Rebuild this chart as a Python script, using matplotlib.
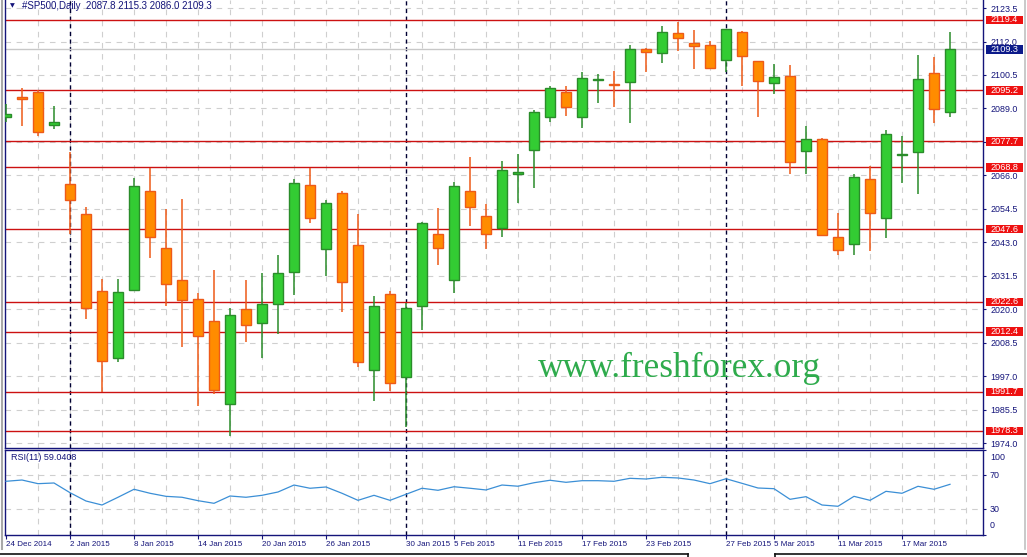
import numpy as np
import matplotlib
matplotlib.use('Agg')
import matplotlib.pyplot as plt
import matplotlib.transforms as mtransforms
from matplotlib.patches import Rectangle
from matplotlib.lines import Line2D
from matplotlib import font_manager

plt.rcParams['lines.scale_dashes'] = False

# ---------------- data ----------------
symbol = '#SP500,Daily'
opens = [2086.1, 2093.0, 2094.7, 2083.3, 2063.1, 2052.7, 2026.3, 2003.5, 2026.8, 2060.7,
         2041.1, 2030.0, 2023.5, 2016.0, 1987.5, 2020.1, 2015.3, 2021.8, 2032.8, 2062.6,
         2040.7, 2059.9, 2042.0, 1999.1, 2025.2, 1996.7, 2021.1, 2045.8, 2030.2, 2060.7,
         2052.0, 2048.1, 2066.5, 2074.7, 2086.0, 2094.7, 2086.0, 2098.8, 2097.4, 2098.0,
         2109.3, 2108.0, 2114.8, 2111.5, 2110.7, 2105.6, 2115.2, 2105.2, 2097.7, 2100.1,
         2074.3, 2078.4, 2044.8, 2042.4, 2064.7, 2051.3, 2073.1, 2074.0, 2101.1, 2087.8]
highs = [2090.5, 2096.0, 2095.4, 2089.9, 2074.1, 2055.1, 2030.4, 2030.4, 2065.1, 2068.5,
         2054.5, 2057.9, 2025.7, 2033.6, 2020.4, 2030.1, 2032.5, 2038.7, 2064.8, 2068.5,
         2057.6, 2060.7, 2052.8, 2024.6, 2026.3, 2022.1, 2050.1, 2054.8, 2063.8, 2072.4,
         2056.2, 2071.0, 2073.4, 2088.5, 2096.7, 2096.7, 2101.5, 2100.9, 2102.0, 2110.8,
         2109.7, 2117.3, 2118.8, 2116.0, 2112.1, 2116.2, 2115.5, 2105.2, 2104.3, 2103.8,
         2082.9, 2078.9, 2053.0, 2066.5, 2069.3, 2081.5, 2079.5, 2107.4, 2106.7, 2115.3]
lows = [2084.4, 2083.0, 2079.6, 2082.0, 2045.9, 2016.7, 1991.6, 2002.1, 2026.8, 2037.8,
        2021.3, 2007.2, 1987.0, 1991.1, 1976.7, 2008.9, 2003.4, 2011.5, 2025.1, 2049.8,
        2031.6, 2019.2, 2000.4, 1988.4, 1992.1, 1979.8, 2013.0, 2035.4, 2025.8, 2048.8,
        2040.9, 2045.0, 2056.7, 2061.8, 2084.5, 2086.5, 2082.4, 2091.0, 2089.6, 2084.1,
        2101.6, 2104.7, 2108.8, 2102.7, 2102.8, 2101.6, 2096.8, 2086.2, 2094.1, 2066.4,
        2066.6, 2045.5, 2038.8, 2038.6, 2040.2, 2044.7, 2063.5, 2059.8, 2084.1, 2086.0]
closes = [2087.1, 2092.3, 2080.9, 2084.4, 2057.5, 2020.6, 2002.2, 2025.9, 2062.3, 2045.0,
          2028.7, 2023.2, 2011.0, 1992.3, 2018.0, 2014.6, 2021.8, 2032.4, 2063.3, 2051.3,
          2056.6, 2029.3, 2001.9, 2021.1, 1994.7, 2020.4, 2049.6, 2041.0, 2062.3, 2055.1,
          2045.8, 2067.8, 2067.3, 2087.7, 2095.9, 2089.4, 2099.4, 2099.1, 2097.1, 2109.3,
          2108.5, 2115.2, 2113.1, 2110.4, 2102.8, 2116.2, 2106.9, 2098.3, 2099.7, 2070.5,
          2078.4, 2045.5, 2040.3, 2065.5, 2053.0, 2080.1, 2073.4, 2099.0, 2088.7, 2109.3]
rsi = [62.6, 64.1, 59.8, 60.6, 49.2, 39.4, 34.7, 43.8, 53.2, 48.5,
       44.9, 43.8, 39.8, 36.7, 45.3, 43.8, 46.1, 50.0, 58.2, 54.4,
       55.9, 48.5, 40.2, 46.1, 40.2, 47.3, 54.4, 52.0, 56.2, 54.4,
       52.4, 58.2, 56.8, 60.9, 63.8, 61.4, 63.3, 63.3, 62.6, 66.1,
       65.3, 67.3, 66.5, 64.1, 59.8, 65.6, 60.2, 54.7, 53.9, 41.4,
       44.5, 34.7, 33.2, 44.9, 40.2, 50.8, 48.5, 56.7, 53.2, 59.0408]
rsi_period = 11
tick_bars = [0, 4, 8, 12, 16, 20, 25, 28, 32, 36, 40, 45, 48, 52, 56]
tick_labels = ['24 Dec 2014', '2 Jan 2015', '8 Jan 2015', '14 Jan 2015', '20 Jan 2015',
               '26 Jan 2015', '30 Jan 2015', '5 Feb 2015', '11 Feb 2015', '17 Feb 2015',
               '23 Feb 2015', '27 Feb 2015', '5 Mar 2015', '11 Mar 2015', '17 Mar 2015']
separator_bars = [4, 25, 45]
level_lines = [2119.4, 2095.2, 2077.7, 2068.8, 2047.6, 2022.6, 2012.4, 1991.7, 1978.3]
bid_price = 2109.3
price_ticks = [1974.0, 1985.5, 1997.0, 2008.5, 2020.0, 2031.5, 2043.0, 2054.5,
               2066.0, 2077.5, 2089.0, 2100.5, 2112.0, 2123.5]
rsi_ticks = [100, 70, 30, 0]
rsi_grid = [70, 30]
watermark = 'www.freshforex.org'

# ---------------- style ----------------
NAVY = '#14147a'
GRID = '#cfcfcf'
UP_FILL, UP_EDGE = '#33cc33', '#2a8c2a'
DN_FILL, DN_EDGE = '#ff8c00', '#ee5a18'
LEVEL = '#cc1111'
BOXRED = '#ee1111'
FONT = ['Liberation Sans', 'DejaVu Sans']
installed = {f.name for f in font_manager.fontManager.ttflist}
if 'Liberation Sans Narrow' in installed:
    DATE_FONT, DATE_SIZE = ['Liberation Sans Narrow', 'Liberation Sans'], 6.6
else:
    DATE_FONT, DATE_SIZE = FONT, 5.8

W, H = 1027, 557
fig = plt.figure(figsize=(W / 100, H / 100), dpi=100)
fig.patch.set_facecolor('white')


def fx(px):
    return px / W


def fy(py):
    return 1 - py / H


L_PX, R_PX = 5, 983
ax = fig.add_axes([fx(L_PX), fy(447.5), (R_PX - L_PX) / W, 447.5 / H])
ax2 = fig.add_axes([fx(L_PX), fy(534.5), (R_PX - L_PX) / W, (534.5 - 449.5) / H])

n = len(opens)
x = np.arange(n)
xl = ((L_PX - 6) / 16, (R_PX - 6) / 16)

for a in (ax, ax2):
    a.set_xlim(*xl)
    a.set_facecolor('white')
    for s in a.spines.values():
        s.set_color(NAVY)
        s.set_linewidth(1.0)
    for b in range(2, 62, 2):
        a.axvline(b, color=GRID, lw=0.8, ls=(0, (4, 4)), zorder=0.5)
    for b in separator_bars:
        a.axvline(b, color='#000033', lw=1.0, ls=(0, (3, 2.5)), zorder=1)

ax.spines['top'].set_visible(False)
ax.set_ylim(1972.6, 2126.25)

# grid (horizontal)
for p in price_ticks:
    ax.axhline(p, color=GRID, lw=0.8, ls=(0, (4, 4)), zorder=0.5)
for v in rsi_grid:
    ax2.axhline(v, color=GRID, lw=0.8, ls=(0, (4, 4)), zorder=0.5)

# level lines
for lv in level_lines:
    ax.axhline(lv, color=LEVEL, lw=1.0, zorder=2)
ax.axhline(bid_price, color='#c8c8c8', lw=1.0, zorder=1.5)

# candles
o = np.array(opens)
c = np.array(closes)
hi = np.array(highs)
lo = np.array(lows)
up = c >= o
fills = [UP_FILL if u else DN_FILL for u in up]
edges = [UP_EDGE if u else DN_EDGE for u in up]
ax.vlines(x, lo, hi, colors=edges, lw=1.1, zorder=3)
ax.bar(x, np.abs(c - o), 0.6, bottom=np.minimum(o, c), color=fills,
       edgecolor=edges, linewidth=1.0, zorder=4)

# price axis
ax.set_xticks([])
ax.yaxis.tick_right()
ax.set_yticks(price_ticks)
ax.set_yticklabels(['%.1f' % p for p in price_ticks])
ax.tick_params(axis='y', direction='out', length=2.2, width=0.8, color=NAVY,
               labelcolor=NAVY, labelsize=6.4, pad=3)
for t in ax.get_yticklabels():
    t.set_family(FONT)

trans = mtransforms.blended_transform_factory(ax.transAxes, ax.transData)
box_x0 = (986 - L_PX) / (R_PX - L_PX)
box_w = 37 / (R_PX - L_PX)
box_h = 8.5 * 0.3433
for lv, col in [(v, BOXRED) for v in level_lines] + [(bid_price, '#0c1a8a')]:
    ax.add_patch(Rectangle((box_x0, lv - box_h / 2), box_w, box_h, transform=trans,
                           facecolor=col, edgecolor='none', clip_on=False, zorder=10))
    ax.text(box_x0 + box_w / 2, lv, '%.1f' % lv, transform=trans, color='white',
            fontsize=6.6, family=FONT, ha='center', va='center', zorder=11, clip_on=False)

# RSI panel
ax2.set_ylim(0, 100)
ax2.plot(x, rsi, color='#3b8fd6', lw=0.9, zorder=3)
ax2.yaxis.tick_right()
ax2.set_yticks(rsi_ticks)
ax2.set_yticklabels([])
ax2.tick_params(axis='y', direction='out', length=2.2, width=0.8, color=NAVY)
rtrans = mtransforms.blended_transform_factory(ax2.transAxes, ax2.transData)
for v in rsi_ticks:
    if v == 100:
        dy, va = -2.5, 'top'
    elif v == 0:
        dy, va = 3.0, 'bottom'
    else:
        dy, va = 0, 'center'
    ax2.annotate(str(v), xy=(1, v), xycoords=rtrans, xytext=(5, dy),
                 textcoords='offset points', ha='left', va=va, fontsize=6.4,
                 color=NAVY, family=FONT, annotation_clip=False)
ax2.text((11 - L_PX) / (R_PX - L_PX), 0.91, 'RSI(%d) %.4f' % (rsi_period, rsi[-1]),
         transform=ax2.transAxes, fontsize=6.5, color=NAVY, family=FONT,
         ha='left', va='center')

ax2.set_xticks(tick_bars)
ax2.set_xticklabels(tick_labels, ha='left')
ax2.tick_params(axis='x', direction='out', length=3, width=0.8, color=NAVY,
                labelcolor=NAVY, labelsize=DATE_SIZE, pad=2)
for t in ax2.get_xticklabels():
    t.set_family(DATE_FONT)

# header
fig.text(fx(12.5), fy(5.5), '\u25bc', fontsize=4.5, color=NAVY, ha='center', va='center',
         family=['DejaVu Sans'])
fig.text(fx(22), fy(6.3), '%s  %.1f %.1f %.1f %.1f' % (symbol, opens[-1], highs[-1], lows[-1], closes[-1]),
         fontsize=7, color=NAVY, ha='left', va='center', family=FONT)

# watermark
fig.text(fx(538), fy(377), watermark, fontsize=25.3, color='#2eab4c',
         family=['Liberation Serif', 'DejaVu Serif'], ha='left', va='baseline', zorder=5)

# window edges
fig.add_artist(Line2D([fx(1.5), fx(1.5)], [fy(0), fy(549)], color='#a8a8a8', lw=1.5))
fig.add_artist(Line2D([fx(1025), fx(1025)], [fy(0), fy(549)], color='#c0c0c0', lw=1.2))
fig.add_artist(Line2D([fx(0), fx(688)], [fy(554), fy(554)], color='#101010', lw=1.2))
fig.add_artist(Line2D([fx(688), fx(688)], [fy(554), fy(557)], color='#101010', lw=1.2))
fig.add_artist(Line2D([fx(775), fx(1027)], [fy(554), fy(554)], color='#101010', lw=1.2))
fig.add_artist(Line2D([fx(775), fx(775)], [fy(554), fy(557)], color='#101010', lw=1.2))

fig.savefig('out.png', dpi=100, facecolor='white')
